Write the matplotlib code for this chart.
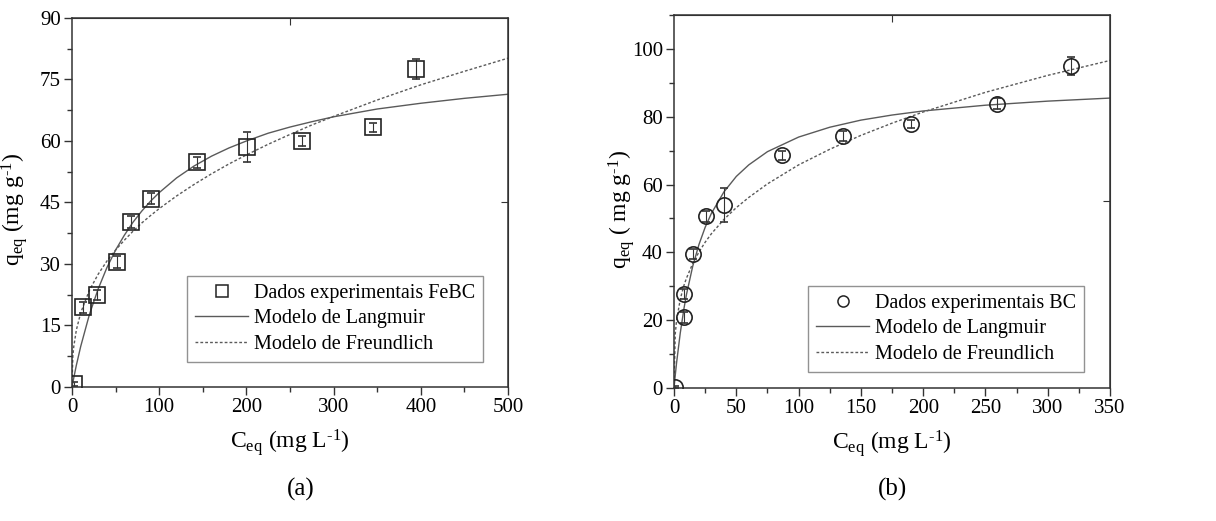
#!/usr/bin/env python3
"""
Adsorption isotherms: FeBC (a) and BC (b) with Langmuir / Freundlich fits.
"""

import matplotlib
matplotlib.use("Agg")
import matplotlib.pyplot as plt
from matplotlib.lines import Line2D
from matplotlib.ticker import MultipleLocator

plt.rcParams["font.family"] = ["Liberation Serif", "DejaVu Serif"]
plt.rcParams["mathtext.fontset"] = "custom"
plt.rcParams["mathtext.rm"] = "Liberation Serif"
plt.rcParams["mathtext.it"] = "Liberation Serif:italic"

# ---- panel (a): FeBC ----
c_a = [2, 13, 29, 52, 68, 91, 143, 201, 264, 345, 395]
q_a = [0.8, 19.4, 22.4, 30.5, 40.2, 45.9, 54.8, 58.6, 60.0, 63.3, 77.5]
err_a = [0.5, 1.4, 1.3, 1.4, 1.4, 1.3, 1.4, 3.7, 1.3, 1.0, 2.4]

fit_c_a = [0, 1, 2, 5, 10, 20, 30, 40, 50, 60, 70, 80, 90, 100, 120, 140, 160,
           180, 200, 225, 250, 275, 300, 350, 400, 450, 500]
lang_a = [0, 1.1, 2.2, 5.3, 9.9, 17.7, 23.9, 29.1, 33.4, 37.0, 40.2, 42.9, 45.3,
          47.4, 51.0, 53.9, 56.3, 58.3, 60.0, 61.9, 63.4, 64.7, 65.9, 67.8,
          69.2, 70.4, 71.4]
freu_a = [0, 7.6, 9.8, 13.9, 18.1, 23.6, 27.5, 30.7, 33.4, 35.8, 38.0, 40.0,
          41.8, 43.5, 46.6, 49.4, 52.0, 54.4, 56.6, 59.2, 61.6, 63.9, 66.0,
          70.0, 73.7, 77.0, 80.2]

# ---- panel (b): BC ----
c_b = [0.5, 8, 8, 15.5, 26, 40, 86.5, 136, 190, 259, 319]
q_b = [0.3, 20.8, 27.7, 39.5, 50.6, 53.9, 68.6, 74.2, 77.9, 83.9, 94.9]
err_b = [0.3, 1.5, 1.5, 1.5, 1.5, 5.0, 1.3, 1.5, 1.2, 1.5, 2.7]

fit_c_b = [0, 1, 2, 5, 8, 10, 15, 20, 25, 30, 40, 50, 60, 75, 100, 125, 150,
           175, 200, 250, 300, 350]
lang_b = [0, 3.8, 7.3, 16.2, 23.5, 27.6, 35.9, 42.3, 47.4, 51.5, 57.8, 62.4,
          65.8, 69.7, 74.0, 76.9, 79.0, 80.5, 81.7, 83.4, 84.6, 85.5]
freu_b = [0, 16.0, 19.8, 26.2, 30.3, 32.4, 36.7, 40.1, 43.0, 45.5, 49.7, 53.2,
          56.2, 60.2, 65.8, 70.4, 74.5, 78.1, 81.4, 87.2, 92.2, 96.6]

LINE = "#5a5a5a"
AXC = "#333333"
HY = "\u2010"  # plain hyphen in the superscripts, like the original


def draw_panel(ax, c, q, err, fit_c, lang, freu, marker, ms, data_label,
               xlim, xmaj, xmin, ylim, ymaj, ymin, ylabel, ylab_x, top_tick,
               right_tick, leg_anchor):
    ax.plot(fit_c, lang, color=LINE, lw=1.0, zorder=2)
    ax.plot(fit_c, freu, color=LINE, lw=1.0, ls=(0, (2, 1.5)), zorder=2)
    ax.errorbar(c, q, yerr=err, fmt=marker, ms=ms, mfc="none", mec="#222222",
                mew=1.2, ecolor=AXC, elinewidth=0.8, capsize=3,
                capthick=0.8, zorder=3)

    ax.set_xlim(*xlim)
    ax.set_ylim(*ylim)
    ax.xaxis.set_major_locator(MultipleLocator(xmaj))
    ax.xaxis.set_minor_locator(MultipleLocator(xmin))
    ax.yaxis.set_major_locator(MultipleLocator(ymaj))
    ax.yaxis.set_minor_locator(MultipleLocator(ymin))
    ax.tick_params(which="both", direction="out", labelsize=15, color=AXC,
                   pad=2)
    ax.tick_params(which="major", length=6, width=1)
    ax.tick_params(which="minor", length=3.5, width=1)

    # Origin-style single inward ticks on the mirror axes
    top = ax.secondary_xaxis("top")
    top.set_xticks([top_tick])
    top.tick_params(direction="in", length=5, labeltop=False, color=AXC)
    right = ax.secondary_yaxis("right")
    right.set_yticks([right_tick])
    right.tick_params(direction="in", length=5, labelright=False, color=AXC)

    for sp in list(ax.spines.values()):
        sp.set_color(AXC)
        sp.set_linewidth(1.1)
    top.spines["top"].set_color(AXC)
    right.spines["right"].set_color(AXC)

    ax.set_xlabel(r"C$_{\rm eq}$ (mg L$^{\rm " + HY + r"1}$)", fontsize=17,
                  labelpad=7)
    ax.set_ylabel(ylabel, fontsize=17)
    ax.yaxis.set_label_coords(ylab_x, 0.48)

    handles = [
        Line2D([], [], ls="none", marker=marker, ms=8, mfc="none",
               mec="#222222", mew=1.1),
        Line2D([], [], color=LINE, lw=1.0),
        Line2D([], [], color=LINE, lw=1.0, ls=(0, (2, 1.5))),
    ]
    labels = [data_label, "Modelo de Langmuir", "Modelo de Freundlich"]
    leg = ax.legend(handles, labels, loc="lower right",
                    bbox_to_anchor=leg_anchor, fontsize=14.5, frameon=True,
                    fancybox=False, handlelength=2.6, handletextpad=0.3,
                    borderpad=0.4, labelspacing=0.32, borderaxespad=0)
    leg.get_frame().set_edgecolor("#777777")
    leg.get_frame().set_linewidth(1.0)


fig = plt.figure(figsize=(12.16, 5.21), dpi=100)
ax_a = fig.add_axes([0.0592, 0.2572, 0.3586, 0.7083])
ax_b = fig.add_axes([0.5543, 0.2553, 0.3586, 0.7159])

draw_panel(ax_a, c_a, q_a, err_a, fit_c_a, lang_a, freu_a, "s", 11,
           "Dados experimentais FeBC", (0, 500), 100, 50, (0, 90), 15, 7.5,
           r"q$_{\rm eq}$ (mg g$^{\rm " + HY + r"1}$)", -0.097, 250, 45,
           (0.943, 0.068))
draw_panel(ax_b, c_b, q_b, err_b, fit_c_b, lang_b, freu_b, "o", 11,
           "Dados experimentais BC", (0, 350), 50, 25, (0, 110), 20, 10,
           r"q$_{\rm eq}$ ( mg g$^{\rm " + HY + r"1}$)", -0.085, 175, 55,
           (0.940, 0.043))

fig.text(0.247, 0.06, "(a)", ha="center", va="center", fontsize=18)
fig.text(0.734, 0.06, "(b)", ha="center", va="center", fontsize=18)

fig.savefig("out.png", dpi=100)
plt.close(fig)
